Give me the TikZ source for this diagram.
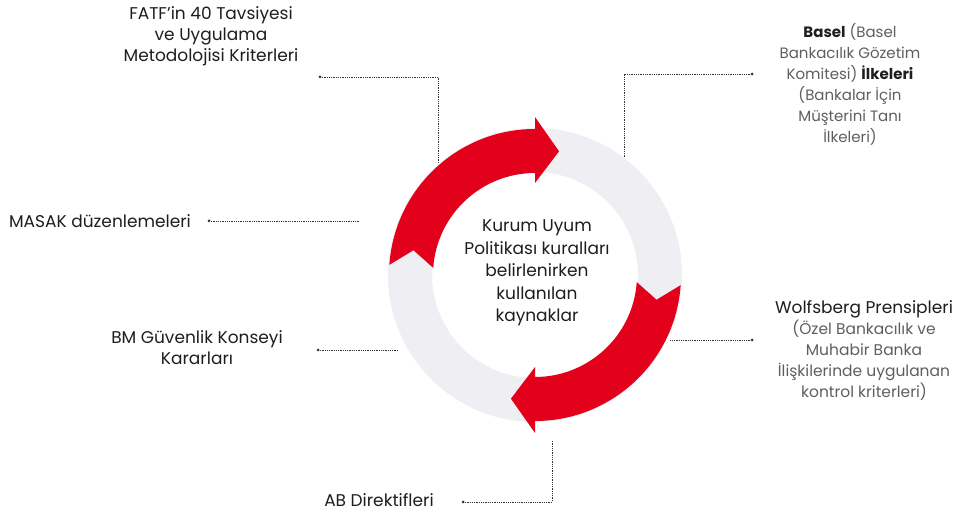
\documentclass[tikz,border=0pt]{standalone}
\usepackage{fontspec}
\setmainfont{Poppins}
\usetikzlibrary{calc}
\definecolor{ringgrey}{RGB}{238,238,243}
\definecolor{arrowred}{RGB}{226,0,26}
\definecolor{maintext}{RGB}{30,30,30}
\definecolor{softtext}{RGB}{95,95,95}
\definecolor{linecol}{RGB}{50,50,50}
\begin{document}
\begin{tikzpicture}[x=1pt,y=1pt,
  lbl/.style={font=\fontsize{17}{21}\selectfont, text=maintext, align=center, inner sep=0pt},
  soft/.style={lbl, text=softtext, font=\fontsize{15}{21}\selectfont},
  conn/.style={draw=linecol, line width=0.8pt, dash pattern=on 0.9pt off 0.9pt},
  enddot/.style={circle, fill=linecol, inner sep=0pt, minimum size=3pt}]
\useasboundingbox (0,0) rectangle (959,514);
\fill[white] (0,0) rectangle (959,514);
\coordinate (C) at (535,239);
% grey ring
\fill[ringgrey, even odd rule] (C) circle (147) (C) circle (103);
% red arrows
\begin{scope}[shift={(535,239)}]
\fill[arrowred] (176:146) arc[start angle=176, end angle=90, radius=146]
  -- (90:158) -- (79:126) -- (90:92) -- (90:102)
  arc[start angle=90, end angle=176, radius=102] -- (168.5:124) -- cycle;
\fill[arrowred] (356:146) arc[start angle=356, end angle=270, radius=146]
  -- (270:158) -- (259:126) -- (270:92) -- (270:102)
  arc[start angle=270, end angle=356, radius=102] -- (348.5:124) -- cycle;
\end{scope}
% centre text
\node[lbl, font=\fontsize{17}{22.5}\selectfont] (centre) at (537,241) {Kurum Uyum\\Politikası kuralları\\belirlenirken\\kullanılan\\kaynaklar};
% labels
\node[lbl] (fatf) at (211,478) {FATF'in 40 Tavsiyesi\\ve Uygulama\\Metodolojisi Kriterleri};
\node[lbl] (masak) at (100,293) {MASAK düzenlemeleri};
\node[lbl] (bm) at (197,166.5) {BM Güvenlik Konseyi\\Kararları};
\node[lbl] (ab) at (379,14) {AB Direktifleri};
\node[soft] (basel) at (850,429.5) {\textcolor{maintext}{\textbf{Basel}} (Basel\\Bankacılık Gözetim\\Komitesi) \textcolor{maintext}{\textbf{İlkeleri}}\\(Bankalar İçin\\Müşterini Tanı\\İlkeleri)};
\node[soft, font=\fontsize{15.5}{21}\selectfont] (wolf) at (864,164) {\textcolor{maintext}{\fontsize{17}{21}\selectfont Wolfsberg Prensipleri}\\(Özel Bankacılık ve\\Muhabir Banka\\İlişkilerinde uygulanan\\kontrol kriterleri)};
% connector points
\node[enddot] (fatfdot) at (320,437) {};
\coordinate (fatfend) at (438,351);
\node[enddot] (masakdot) at (209,293) {};
\coordinate (masakend) at (360,293);
\node[enddot] (bmdot) at (318,164) {};
\coordinate (bmend) at (398,164);
\node[enddot] (abdot) at (463,12) {};
\coordinate (abend) at (552,74);
\node[enddot] (baseldot) at (752,440) {};
\coordinate (baselend) at (624,357);
\node[enddot] (wolfdot) at (752,174) {};
\coordinate (wolfend) at (670,174);
% connectors
\draw[conn] (fatfdot) -| (fatfend);
\draw[conn] (masakdot) -- (masakend);
\draw[conn] (bmdot) -- (bmend);
\draw[conn] (abdot) -| (abend);
\draw[conn] (baseldot) -| (baselend);
\draw[conn] (wolfdot) -- (wolfend);
\end{tikzpicture}
\end{document}
